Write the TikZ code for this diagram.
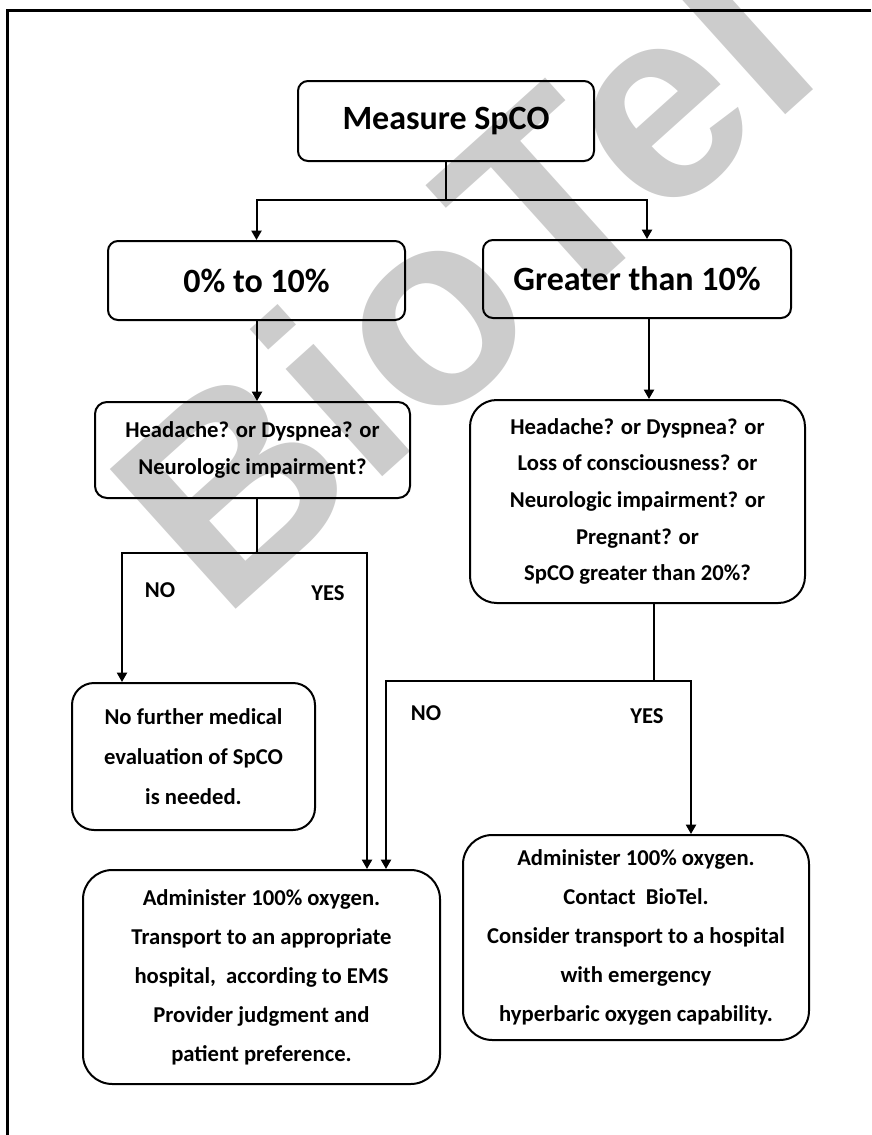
\documentclass[tikz,border=0pt]{standalone}
\usepackage{fontspec}
\setmainfont{Carlito}
\newfontfamily\wmfont{Liberation Sans}
\usetikzlibrary{arrows.meta}
\definecolor{wm}{RGB}{204,204,204}
\begin{document}
\begin{tikzpicture}[x=0.75pt,y=-0.75pt,
  box/.style={draw, line width=1.5pt, inner sep=0pt, align=center, text=black},
  big/.style={font=\bfseries\fontsize{25.5}{30}\selectfont},
  med/.style={font=\bfseries\fontsize{17}{#1}\selectfont},
  conn/.style={line width=1.5pt},
  arr/.style={conn,-{Triangle[width=7.5pt,length=7pt]}},
  lbl/.style={font=\bfseries\fontsize{17}{20}\selectfont, inner sep=0pt}]

\useasboundingbox (0,0) rectangle (871,1135);

% watermark
\begin{scope}
\clip (0,0) rectangle (871,1135);
\node[rotate=42, anchor=base west, inner sep=0pt, text=wm,
      font=\wmfont\bfseries\fontsize{205}{205}\selectfont] (wmark) at (222,622) {BioTel};
\end{scope}

% outer border
\draw[line width=2.25pt] (871,10) -- (7,10) -- (7,1135);

% boxes
\node[box, big, rounded corners=7.5pt, minimum width=222pt, minimum height=60pt] (measure) at (446,121) {Measure SpCO};
\node[box, big, rounded corners=7.5pt, minimum width=222.75pt, minimum height=59.25pt] (low) at (256.5,280.5) {0\% to 10\%};
\node[box, big, rounded corners=7.5pt, minimum width=231pt, minimum height=58.5pt] (high) at (637,279) {Greater than 10\%};

\node[box, med=27.75pt, rounded corners=9pt, minimum width=236.25pt, minimum height=72pt] (hq1) at (252.5,450)
  {Headache? or Dyspnea? or\\Neurologic impairment?};
\node[box, med=27.5pt, rounded corners=20pt, minimum width=251.25pt, minimum height=152.25pt] (hq2) at (637.5,501.5)
  {Headache? or Dyspnea? or\\Loss of consciousness? or\\Neurologic impairment? or\\Pregnant? or\\SpCO greater than 20\%?};

\node[box, med=30pt, rounded corners=16.5pt, minimum width=182.25pt, minimum height=110.25pt] (nofurther) at (193.5,756.5)
  {No further medical\\evaluation of SpCO\\is needed.};
\node[box, med=29.25pt, rounded corners=22pt, minimum width=267.75pt, minimum height=160.5pt] (admin1) at (261.5,977)
  {Administer 100\% oxygen.\\Transport to an appropriate\\hospital,~ according to EMS\\Provider judgment and\\patient preference.};
\node[box, med=29.25pt, rounded corners=22pt, minimum width=259.5pt, minimum height=153.75pt] (admin2) at (636,937.5)
  {Administer 100\% oxygen.\\Contact~ BioTel.\\Consider transport to a hospital\\with emergency\\hyperbaric oxygen capability.};

% junction coordinates
\coordinate (j1) at (446,200);
\coordinate (x647) at (647,0);
\coordinate (x649) at (649,0);
\coordinate (j2) at (257,553);
\coordinate (xa) at (122,0);
\coordinate (xb) at (367,0);
\coordinate (j3) at (654,681);
\coordinate (xc) at (386,0);
\coordinate (xd) at (691,0);

% connectors
\draw[conn] (measure.south) -- (j1);
\draw[arr] (j1) -| (low.north);
\draw[arr] (j1) -| (high.north -| x647);
\draw[arr] (low.south -| j2) -- (hq1.north -| j2);
\draw[arr] (high.south -| x649) -- (hq2.north -| x649);

\draw[conn] (hq1.south -| j2) -- (j2);
\draw[arr] (j2) -| (nofurther.north -| xa);
\draw[arr] (j2) -| (admin1.north -| xb);

\draw[conn] (hq2.south -| j3) -- (j3);
\draw[arr] (j3) -| (admin1.north -| xc);
\draw[arr] (j3) -| (admin2.north -| xd);

% labels
\node[lbl] (no1) at (160,590) {NO};
\node[lbl] (yes1) at (328,593) {YES};
\node[lbl] (no2) at (426,713) {NO};
\node[lbl] (yes2) at (647,716) {YES};
\end{tikzpicture}
\end{document}
